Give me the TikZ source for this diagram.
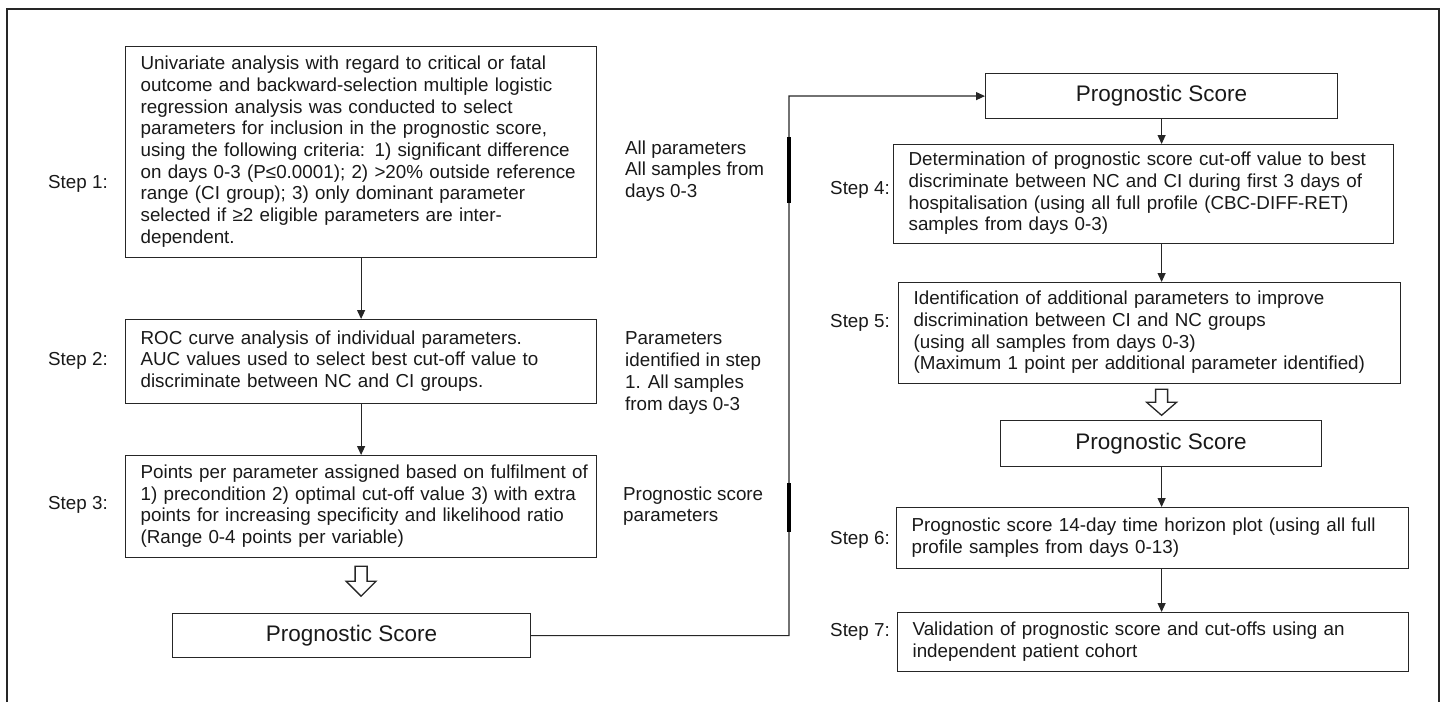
\documentclass[tikz,border=0pt]{standalone}
\usepackage{fontspec}
\setmainfont{Liberation Sans}
\usetikzlibrary{arrows.meta}
\newcommand{\boxlines}[1]{\begin{tabular}{@{}l@{}}#1\end{tabular}}
\begin{document}
\begin{tikzpicture}[x=1pt,y=-1pt,
  every node/.style={font=\fontsize{18.8}{21.7}\selectfont, text=black!90},
  stepbox/.style={draw=black!85, line width=1.2pt, anchor=north west, inner xsep=15pt, inner ysep=0pt, align=left},
  psbox/.style={draw=black!85, line width=1.2pt, anchor=north west, inner sep=0pt, font=\fontsize{22.5}{26}\selectfont},
  lbl/.style={inner sep=0pt, align=left},
  conn/.style={draw=black!85, line width=1.2pt, -{Triangle[length=9pt,width=8pt]}},
  frame/.style={draw=black!85, line width=1.4pt},
  thickseg/.style={draw=black, line width=3.5pt},
  hollowarrow/.pic={\draw[black!85, line width=1.3pt, fill=white] (-6,0) -- (-6,15) -- (-15,15) -- (0,30) -- (15,15) -- (6,15) -- (6,0) -- cycle;}
]
\useasboundingbox (0,0) rectangle (1444,702);

% outer frame
\draw[frame] (7,702) -- (7,9) -- (1439,9) -- (1439,702);

% left column boxes
\node[stepbox, text width=441pt, minimum height=211pt] (b1) at (125,46) {\noindent\boxlines{%
Univariate analysis with regard to critical or fatal\\
outcome and backward-selection multiple logistic\\
regression analysis was conducted to select\\
parameters for inclusion in the prognostic score,\\
using the following criteria: 1) significant difference\\
on days 0-3 (P≤0.0001); 2) >20\% outside reference\\
range (CI group); 3) only dominant parameter\\
selected if ≥2 eligible parameters are inter-\\
dependent.}};

\node[stepbox, text width=441pt, minimum height=84pt] (b2) at (125,319) {\noindent\boxlines{%
ROC curve analysis of individual parameters.\\
AUC values used to select best cut-off value to\\
discriminate between NC and CI groups.}};

\node[stepbox, text width=441pt, minimum height=102pt] (b3) at (125,455) {\noindent\boxlines{%
Points per parameter assigned based on fulfilment of\\
1) precondition 2) optimal cut-off value 3) with extra\\
points for increasing specificity and likelihood ratio\\
(Range 0-4 points per variable)}};

\node[psbox, minimum width=358pt, minimum height=44pt] (ps1) at (172,613) {Prognostic Score};

% right column boxes
\node[psbox, minimum width=352pt, minimum height=45pt] (pstop) at (985,73) {Prognostic Score};

\node[stepbox, text width=470pt, minimum height=99pt] (b4) at (893,144) {\noindent\boxlines{%
Determination of prognostic score cut-off value to best\\
discriminate between NC and CI during first 3 days of\\
hospitalisation (using all full profile (CBC-DIFF-RET)\\
samples from days 0-3)}};

\node[stepbox, text width=472pt, minimum height=101pt] (b5) at (898,282) {\noindent\boxlines{%
Identification of additional parameters to improve\\
discrimination between CI and NC groups\\
(using all samples from days 0-3)\\
(Maximum 1 point per additional parameter identified)}};

\node[psbox, minimum width=321pt, minimum height=46pt] (ps2) at (1000,420) {Prognostic Score};

\node[stepbox, text width=482pt, minimum height=61pt] (b6) at (896,507) {\noindent\boxlines{%
Prognostic score 14-day time horizon plot (using all full\\
profile samples from days 0-13)}};

\node[stepbox, text width=481pt, minimum height=59pt] (b7) at (897,612) {\noindent\boxlines{%
Validation of prognostic score and cut-offs using an\\
independent patient cohort}};

% step labels
\node[lbl, anchor=west] (s1) at (48,184) {Step 1:};
\node[lbl, anchor=west] (s2) at (48,361) {Step 2:};
\node[lbl, anchor=west] (s3) at (48,505) {Step 3:};
\node[lbl, anchor=east] (s4) at (890,190) {Step 4:};
\node[lbl, anchor=east] (s5) at (890,323) {Step 5:};
\node[lbl, anchor=east] (s6) at (890,540) {Step 6:};
\node[lbl, anchor=east] (s7) at (890,632) {Step 7:};

% middle labels
\node[lbl, anchor=west] (m1) at (625,171) {All parameters\\All samples from\\days 0-3};
\node[lbl, anchor=west] (m2) at (625,373) {Parameters\\identified in step\\1. All samples\\from days 0-3};
\node[lbl, anchor=west] (m3) at (623,506) {Prognostic score\\parameters};

% connectors left column
\draw[conn] (b1.south) -- (b2.north);
\draw[conn] (b2.south) -- (b3.north);
\path (b3.south) ++(0,8) pic {hollowarrow};

% long connector
\coordinate (turn) at (789,96);
\draw[conn] (ps1.east) -| (turn) -- (pstop.west);
\draw[thickseg] (789,137) -- (789,203);
\draw[thickseg] (789,483) -- (789,532);

% connectors right column
\draw[conn] (pstop.south) -- (pstop.south |- b4.north);
\draw[conn] (pstop.center |- b4.south) -- (pstop.center |- b5.north);
\path (pstop.center |- b5.south) ++(0,5) pic[yscale=0.87] {hollowarrow};
\draw[conn] (pstop.center |- ps2.south) -- (pstop.center |- b6.north);
\draw[conn] (pstop.center |- b6.south) -- (pstop.center |- b7.north);
\end{tikzpicture}
\end{document}
